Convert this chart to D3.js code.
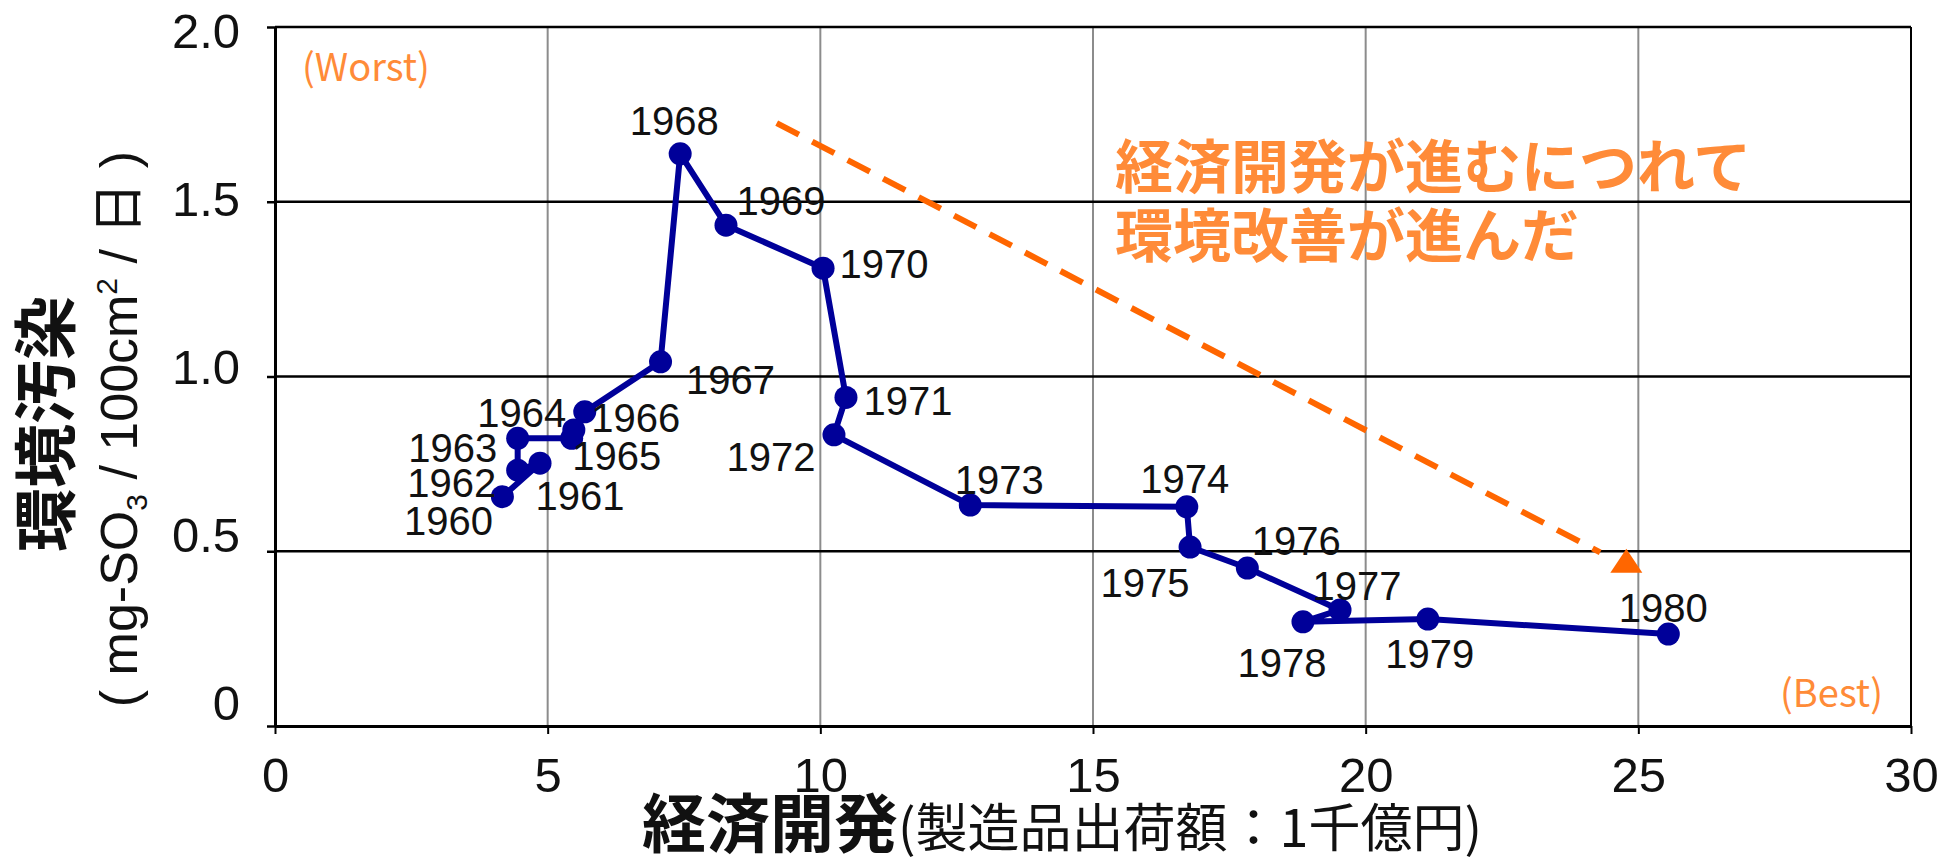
<!DOCTYPE html>
<html>
<head>
<meta charset="utf-8">
<script src="https://cdn.jsdelivr.net/npm/d3@7"></script>
<style>
  body { margin: 0; background: #fff; }
</style>
</head>
<body>
<div id="chart"></div>
<script>
const years = [1960, 1961, 1962, 1963, 1964, 1965, 1966, 1967, 1968, 1969, 1970,
               1971, 1972, 1973, 1974, 1975, 1976, 1977, 1978, 1979, 1980];
// 製造品出荷額 (千億円)
const production = [4.17, 4.86, 4.45, 4.45, 5.44, 5.48, 5.68, 7.07, 7.43, 8.27, 10.05,
                    10.47, 10.25, 12.75, 16.72, 16.78, 17.83, 19.53, 18.85, 21.14, 25.55];
// mg-SO3 / 100cm2 / 日
const pollution = [0.656, 0.752, 0.732, 0.823, 0.823, 0.847, 0.899, 1.042, 1.637, 1.433, 1.310,
                   0.940, 0.833, 0.632, 0.627, 0.512, 0.452, 0.332, 0.298, 0.306, 0.263];

const xTicks = [0, 5, 10, 15, 20, 25, 30];
const yTicks = [0, 0.5, 1.0, 1.5, 2.0];
const yTickLabels = ["0", "0.5", "1.0", "1.5", "2.0"];

// trend arrow (data units)
const trendStart = [9.2, 1.725];
const trendEnd = [24.3, 0.497];
const trendHead = [24.78, 0.47];

// year label placement, pixels from the point
const labelOffsets = [[-54, 38], [40, 47], [-66, 27], [-65, 24], [-50, -11], [43, 40], [51, 20],
                      [70, 32], [-6, -19], [55, -10], [61, 10], [62, 18], [-63, 36], [29, -11],
                      [-2, -14], [-45, 50], [49, -13], [17, -10], [-21, 55], [2, 49], [-5, -12]];

const width = 1957;
const height = 864;
const numFont = "'Liberation Sans', Arial, 'Noto Sans CJK JP', sans-serif";
const jpFont = "'Noto Sans CJK JP', 'Liberation Sans', sans-serif";
const orange = "#FF8B38";

const svg = d3.select("#chart")
    .append("svg")
    .attr("width", width)
    .attr("height", height)
    .style("background", "#fff");

const x = d3.scaleLinear().domain([0, 30]).range([275, 1911]);
const y = d3.scaleLinear().domain([0, 2]).range([726, 27]);
// tick labels sit on a slightly tighter spacing than the gridlines
const yText = d3.scaleLinear().domain([0, 2]).range([702, 29.5]);

// vertical gridlines
svg.append("g").selectAll("line")
    .data(xTicks.slice(1, -1))
    .join("line")
    .attr("x1", d => x(d)).attr("x2", d => x(d))
    .attr("y1", y(0)).attr("y2", y(2))
    .attr("stroke", "#8c8c8c")
    .attr("stroke-width", 2);

// horizontal gridlines
svg.append("g").selectAll("line")
    .data(yTicks.slice(1))
    .join("line")
    .attr("x1", x(0)).attr("x2", x(30))
    .attr("y1", d => y(d)).attr("y2", d => y(d))
    .attr("stroke", "#000")
    .attr("stroke-width", 2.5);

// right border
svg.append("line")
    .attr("x1", x(30)).attr("x2", x(30))
    .attr("y1", y(0)).attr("y2", y(2))
    .attr("stroke", "#000")
    .attr("stroke-width", 2);

// x axis
const gx = svg.append("g")
    .attr("transform", `translate(0,${y(0)})`)
    .call(d3.axisBottom(x).tickValues(xTicks).tickSize(8).tickPadding(23).tickSizeOuter(0));
gx.attr("font-family", numFont).attr("font-size", 49);
gx.select(".domain").attr("stroke-width", 3);
gx.selectAll(".tick line").attr("stroke-width", 2);
gx.selectAll(".tick text").attr("fill", "#111");

// y axis: ticks on the gridlines, labels on their own scale
const gy = svg.append("g")
    .attr("transform", `translate(${x(0)},0)`)
    .call(d3.axisLeft(y).tickValues(yTicks).tickSize(8).tickSizeOuter(0).tickFormat(""));
gy.select(".domain").attr("stroke-width", 3);
gy.selectAll(".tick line").attr("stroke-width", 2.5);

const gyl = svg.append("g")
    .attr("transform", `translate(${x(0)},0)`)
    .call(d3.axisLeft(yText).tickValues(yTicks).tickSize(0).tickPadding(35)
        .tickFormat((d, i) => yTickLabels[i]));
gyl.select(".domain").remove();
gyl.attr("font-family", numFont).attr("font-size", 49);
gyl.selectAll(".tick text").attr("fill", "#111").attr("dy", "0.36em");

// trend arrow
svg.append("line")
    .attr("x1", x(trendStart[0])).attr("y1", y(trendStart[1]))
    .attr("x2", x(trendEnd[0])).attr("y2", y(trendEnd[1]))
    .attr("stroke", "#FF6600")
    .attr("stroke-width", 6)
    .attr("stroke-dasharray", "25,15");

svg.append("path")
    .attr("transform", `translate(${x(trendHead[0])},${y(trendHead[1])})`)
    .attr("d", "M0,-13L16,11L-16,11Z")
    .attr("fill", "#FF6600");

// data line
const idx = d3.range(years.length);
const line = d3.line()
    .x(i => x(production[i]))
    .y(i => y(pollution[i]));

svg.append("path")
    .datum(idx)
    .attr("d", line)
    .attr("fill", "none")
    .attr("stroke", "#000099")
    .attr("stroke-width", 6)
    .attr("stroke-linejoin", "round");

svg.append("g").selectAll("circle")
    .data(idx)
    .join("circle")
    .attr("cx", i => x(production[i]))
    .attr("cy", i => y(pollution[i]))
    .attr("r", 11.5)
    .attr("fill", "#000099");

svg.append("g").selectAll("text")
    .data(idx)
    .join("text")
    .attr("x", i => x(production[i]) + labelOffsets[i][0])
    .attr("y", i => y(pollution[i]) + labelOffsets[i][1])
    .attr("text-anchor", "middle")
    .attr("font-family", numFont)
    .attr("font-size", 40)
    .attr("fill", "#111")
    .text(i => years[i]);

// annotation text
const note = svg.append("text")
    .attr("font-family", jpFont)
    .attr("font-weight", "bold")
    .attr("font-size", 58)
    .attr("fill", orange);
note.append("tspan").attr("x", 1115).attr("y", 188).text("経済開発が進むにつれて");
note.append("tspan").attr("x", 1115).attr("y", 257).text("環境改善が進んだ");

svg.append("text")
    .attr("x", 302).attr("y", 81)
    .attr("font-family", jpFont)
    .attr("font-size", 38)
    .attr("fill", orange)
    .text("(Worst)");

svg.append("text")
    .attr("x", 1883).attr("y", 707)
    .attr("text-anchor", "end")
    .attr("font-family", jpFont)
    .attr("font-size", 38)
    .attr("fill", orange)
    .text("(Best)");

// y title
svg.append("text")
    .attr("transform", "translate(69,424) rotate(-90)")
    .attr("text-anchor", "middle")
    .attr("font-family", jpFont)
    .attr("font-weight", "bold")
    .attr("font-size", 64)
    .attr("fill", "#111")
    .text("環境汚染");

const unit = svg.append("text")
    .attr("transform", "translate(137,429) rotate(-90)")
    .attr("text-anchor", "middle")
    .attr("font-family", numFont)
    .attr("font-size", 52)
    .attr("fill", "#111");
unit.append("tspan").text("( mg-SO");
unit.append("tspan").attr("font-size", 30).attr("dy", 10).text("3");
unit.append("tspan").attr("dy", -10).text(" / 100cm");
unit.append("tspan").attr("font-size", 30).attr("dy", -20).text("2");
unit.append("tspan").attr("dy", 20).text(" / 日 )");

// x title
const xt = svg.append("text")
    .attr("x", 1062).attr("y", 847)
    .attr("text-anchor", "middle")
    .attr("font-family", jpFont)
    .attr("fill", "#111");
xt.append("tspan").attr("font-weight", "bold").attr("font-size", 64).text("経済開発");
xt.append("tspan").attr("font-size", 52).text("(製造品出荷額：1千億円)");
</script>
</body>
</html>
